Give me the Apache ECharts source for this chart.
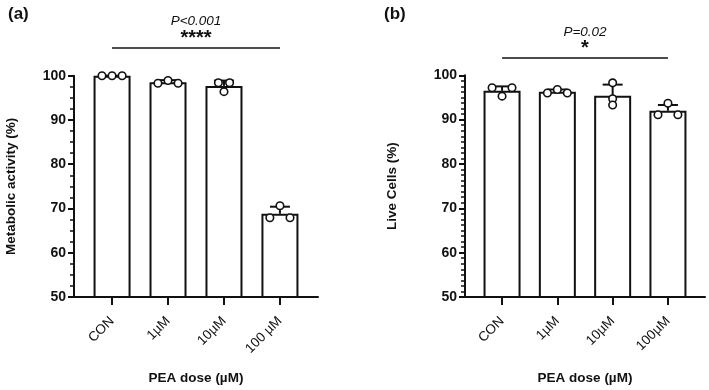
<!DOCTYPE html>
<html>
<head>
<meta charset="utf-8">
<script src="https://cdn.jsdelivr.net/npm/echarts@6/dist/echarts.min.js"></script>
<style>
  html, body { margin: 0; background: #fff; }
  #chart { width: 709px; height: 390px; }
</style>
</head>
<body>
<div id="chart"></div>
<script>
// panel (a) - metabolic activity
const categoriesA = ['CON', '1µM', '10µM', '100 µM'];
const meanA = [100, 98.5, 97.7, 68.8];
const sdA = [0, 0.5, 1.2, 1.6];
const pointsA = [[100, 100, 100], [98.3, 98.9, 98.3], [98.4, 96.4, 98.4], [67.9, 70.6, 67.9]];
const jitterA = [[-0.18, 0, 0.18], [-0.18, 0, 0.18], [-0.1, 0, 0.1], [-0.18, 0, 0.18]];

// panel (b) - live cells
const categoriesB = ['CON', '1µM', '10µM', '100µM'];
const meanB = [96.5, 96.3, 95.4, 92.0];
const sdB = [1.0, 0.5, 2.5, 1.3];
const pointsB = [[97.2, 95.3, 97.2], [96.0, 96.8, 96.0], [98.3, 94.7, 93.3], [91.1, 93.7, 91.1]];
const jitterB = [[-0.18, 0, 0.18], [-0.18, 0, 0.18], [0, 0, 0], [-0.18, 0, 0.18]];

const yTicks = [50, 60, 70, 80, 90, 100];
const positions = [1, 2, 3, 4];

const ink = '#111';
const font = '"Liberation Sans", Arial, sans-serif';

const chart = echarts.init(document.getElementById('chart'));

function xAxis(gridIndex, cats, min, max) {
  return {
    type: 'value', gridIndex, min, max,
    axisLine: { show: true, lineStyle: { color: ink, width: 2 } },
    axisTick: { show: true, customValues: positions, length: 8, lineStyle: { color: ink, width: 2 } },
    axisLabel: {
      customValues: positions, rotate: 45, margin: 22,
      formatter: v => cats[Math.round(v) - 1],
      color: ink, fontSize: 13.5, fontFamily: font
    },
    splitLine: { show: false },
    name: 'PEA dose (µM)', nameLocation: 'middle', nameGap: 74,
    nameTextStyle: { color: ink, fontSize: 13.5, fontWeight: 'bold', fontFamily: font }
  };
}

function yAxis(gridIndex, name, nameGap, minorSplit) {
  return {
    type: 'value', gridIndex, min: yTicks[0], max: yTicks[yTicks.length - 1], interval: 10,
    axisLine: { show: true, lineStyle: { color: ink, width: 2 } },
    axisTick: { show: true, length: 6, lineStyle: { color: ink, width: 2 } },
    minorTick: { show: true, splitNumber: minorSplit, length: 4, lineStyle: { color: ink, width: 1.5 } },
    axisLabel: { color: ink, fontSize: 14, fontWeight: 'bold', fontFamily: font, margin: 8 },
    splitLine: { show: false },
    name, nameLocation: 'middle', nameGap,
    nameTextStyle: { color: ink, fontSize: 13.5, fontWeight: 'bold', fontFamily: font }
  };
}

function errorBars(idx, means, sds) {
  return {
    type: 'custom', xAxisIndex: idx, yAxisIndex: idx, z: 3,
    data: means.map((m, i) => [positions[i], m, sds[i]]),
    renderItem: (params, api) => {
      const x = api.value(0), m = api.value(1), s = api.value(2);
      const p0 = api.coord([x, m]);
      const p1 = api.coord([x, m + s]);
      const st = { stroke: ink, lineWidth: 2 };
      return {
        type: 'group',
        children: [
          { type: 'line', shape: { x1: p0[0], y1: p0[1], x2: p1[0], y2: p1[1] }, style: st },
          { type: 'line', shape: { x1: p1[0] - 10, y1: p1[1], x2: p1[0] + 10, y2: p1[1] }, style: st }
        ]
      };
    }
  };
}

function bars(idx, means) {
  return {
    type: 'bar', xAxisIndex: idx, yAxisIndex: idx, barWidth: 37, z: 2,
    data: means.map((m, i) => [positions[i], m]),
    itemStyle: { color: '#fff', borderColor: ink, borderWidth: 2 }
  };
}

function dots(idx, pts, jit) {
  const data = [];
  pts.forEach((row, i) => row.forEach((v, k) => data.push([positions[i] + jit[i][k], v])));
  return {
    type: 'scatter', xAxisIndex: idx, yAxisIndex: idx, z: 4,
    symbol: 'circle', symbolSize: 7.5, data,
    itemStyle: { color: '#fff', borderColor: ink, borderWidth: 1.6, opacity: 1 }
  };
}

chart.setOption({
  animation: false,
  backgroundColor: '#fff',
  grid: [
    { left: 74, right: 391, top: 75.7, bottom: 86 },
    { left: 465, right: 4, top: 75.3, bottom: 86 }
  ],
  xAxis: [xAxis(0, categoriesA, 0.32, 4.68), xAxis(1, categoriesB, 0.33, 4.67)],
  yAxis: [yAxis(0, 'Metabolic activity (%)', 56, 4), yAxis(1, 'Live Cells (%)', 66, 8)],
  series: [
    bars(0, meanA), errorBars(0, meanA, sdA), dots(0, pointsA, jitterA),
    bars(1, meanB), errorBars(1, meanB, sdB), dots(1, pointsB, jitterB)
  ]
});

// significance annotations, spanning first to last category
function bracket(idx, pText, stars, yP, yS, yL) {
  const x1 = chart.convertToPixel({ xAxisIndex: idx }, positions[0]);
  const x2 = chart.convertToPixel({ xAxisIndex: idx }, positions[positions.length - 1]);
  const cx = (x1 + x2) / 2;
  return [
    { type: 'text', x: cx, y: yP, style: { text: pText, fill: ink, font: 'italic 13.5px ' + font, align: 'center', verticalAlign: 'middle' } },
    { type: 'text', x: cx, y: yS, style: { text: stars, fill: ink, font: 'bold 20px ' + font, align: 'center', verticalAlign: 'middle' } },
    { type: 'line', shape: { x1, y1: yL, x2, y2: yL }, style: { stroke: ink, lineWidth: 1.5 } }
  ];
}

chart.setOption({
  graphic: [
    { type: 'text', left: 8, top: 6, style: { text: '(a)', fill: ink, font: 'bold 17px ' + font } },
    { type: 'text', left: 384, top: 6, style: { text: '(b)', fill: ink, font: 'bold 17px ' + font } },
    ...bracket(0, 'P<0.001', '****', 21, 38, 48),
    ...bracket(1, 'P=0.02', '*', 32, 48, 58)
  ]
});
</script>
</body>
</html>
